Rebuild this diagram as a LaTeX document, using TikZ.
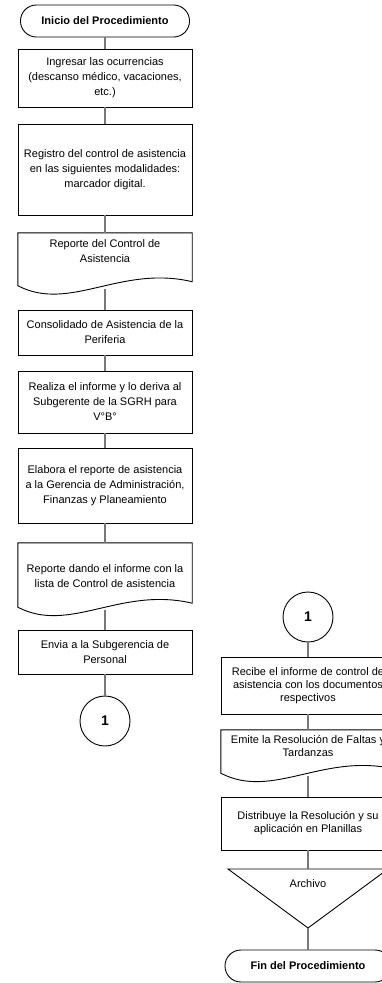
\documentclass[tikz,border=0pt]{standalone}
\usepackage{fontspec}
\setmainfont{Liberation Sans}
\usetikzlibrary{calc}
\definecolor{conngray}{RGB}{120,120,120}
\tikzset{
  boxline/.style={draw=black, line width=0.9pt},
  procbox/.style={boxline, rectangle, minimum width=174pt, inner sep=1pt, align=center},
  docbox/.style={rectangle, minimum width=174pt, inner sep=1pt, align=center},
  termbox/.style={boxline, rectangle, rounded corners=15.9pt, minimum height=32pt, inner sep=1pt, align=center, font=\fontsize{11}{13}\selectfont\bfseries},
  connbox/.style={boxline, circle, minimum size=50pt, inner sep=0pt, font=\fontsize{14}{16}\selectfont\bfseries},
  conn/.style={draw=conngray, line width=1.2pt},
  lfont/.style={font=\fontsize{11}{15}\selectfont},
  rfont/.style={font=\fontsize{11}{13}\selectfont},
}
\newcommand{\docwave}[1]{%
  \draw[boxline] ($(#1.south west)+(0,-3)$) -- (#1.north west) -- (#1.north east) -- ($(#1.south east)+(0,-7)$)
    .. controls ($(#1.south east)+(-72,-24)$) and ($(#1.south west)+(52,24)$) .. ($(#1.south west)+(0,-3)$) -- cycle;
}
\begin{document}
\begin{tikzpicture}[x=1pt, y=-1pt]
\useasboundingbox (0,0) rectangle (382,983);
% left column
\node[termbox, minimum width=169pt] (ini) at (105,21) {Inicio del Procedimiento};
\node[procbox, lfont, minimum height=58pt] (b1) at (105,78) {Ingresar las ocurrencias\\(descanso médico, vacaciones,\\etc.)};
\node[procbox, lfont, minimum height=91pt] (b2) at (105,169.5) {Registro del control de asistencia\\en las siguientes modalidades:\\marcador digital.};
\node[docbox, lfont, minimum height=55.5pt] (d3) at (105,260.75) {Reporte del Control de\\Asistencia\\[4pt]};
\docwave{d3}
\node[procbox, lfont, minimum height=45pt] (b4) at (105,332.5) {Consolidado de Asistencia de la\\Periferia};
\node[procbox, lfont, minimum height=62pt] (b5) at (105,402) {Realiza el informe y lo deriva al\\Subgerente de la SGRH para\\V°B°};
\node[procbox, lfont, minimum height=75pt] (b6) at (105,485.5) {Elabora el reporte de asistencia\\a la Gerencia de Administración,\\Finanzas y Planeamiento};
\node[docbox, lfont, minimum height=67pt] (d7) at (105,576.5) {Reporte dando el informe con la\\lista de Control de asistencia};
\docwave{d7}
\node[procbox, lfont, minimum height=44pt] (b8) at (105,652) {Envia a la Subgerencia de\\Personal};
\node[connbox] (c1) at (105,721) {1};
% right column
\node[connbox] (c2) at (308,617) {1};
\node[procbox, rfont, minimum height=57pt] (r1) at (308,685.5) {Recibe el informe de control de\\asistencia con los documentos\\respectivos};
\node[docbox, rfont, minimum height=46pt] (d2) at (308,753) {Emite la Resolución de Faltas y\\Tardanzas\\[2pt]};
\docwave{d2}
\node[procbox, rfont, minimum height=53pt] (r3) at (308,823.5) {Distribuye la Resolución y su\\aplicación en Planillas};
\coordinate (triTL) at (228,869);
\coordinate (triTR) at (388,869);
\coordinate (triT) at (308,869);
\coordinate (triB) at (308,928);
\draw[boxline] (triTL) -- (triTR) -- (triB) -- cycle;
\node[lfont, inner sep=0pt] (arch) at (308,884) {Archivo};
\node[termbox, minimum width=166pt] (fin) at (308,966) {Fin del Procedimiento};
% connectors
\draw[conn] (ini) -- (b1);
\draw[conn] (b1) -- (b2);
\draw[conn] (b2) -- (d3.north);
\draw[conn] (d3.south) -- (b4);
\draw[conn] (b4) -- (b5);
\draw[conn] (b5) -- (b6);
\draw[conn] (b6) -- (d7.north);
\draw[conn] (d7.south) -- (b8);
\draw[conn] (b8) -- (c1);
\draw[conn] (c2) -- (r1);
\draw[conn] (r1) -- (d2.north);
\draw[conn] (d2.south) -- (r3);
\draw[conn] (r3) -- (triT);
\draw[conn] (triB) -- (fin);
\end{tikzpicture}
\end{document}
